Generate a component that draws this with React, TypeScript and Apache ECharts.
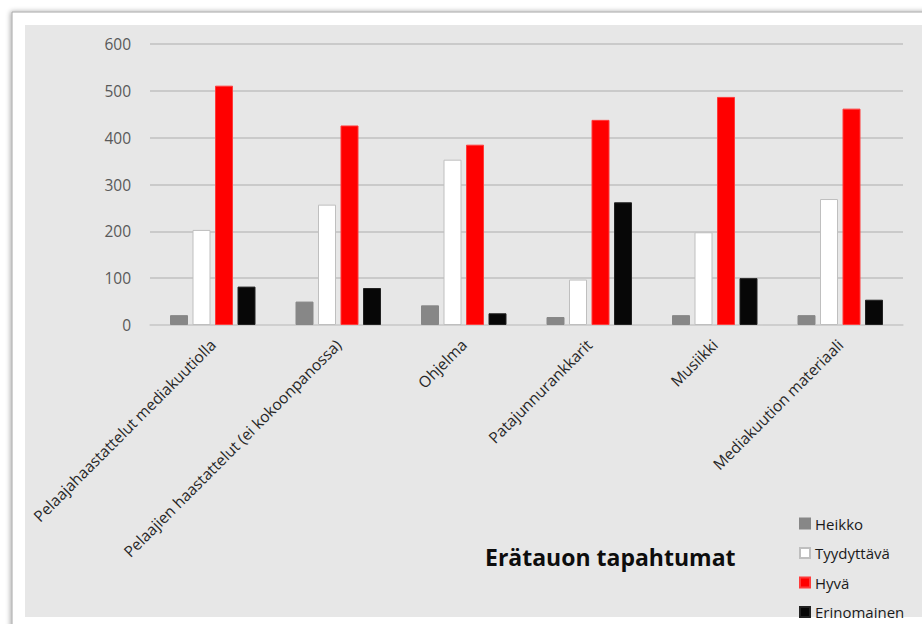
import React, { useEffect, useRef } from "react";
import * as echarts from "echarts";

// Categories (event types shown during the intermission)
const categories: string[] = [
  "Pelaajahaastattelut mediakuutiolla",
  "Pelaajien haastattelut (ei kokoonpanossa)",
  "Ohjelma",
  "Patajunnurankkarit",
  "Musiikki",
  "Mediakuution materiaali",
];

// Rating counts per category
const heikko: number[] = [21, 50, 42, 17, 21, 21];
const tyydyttava: number[] = [203, 257, 353, 97, 198, 269];
const hyva: number[] = [511, 426, 385, 438, 487, 462];
const erinomainen: number[] = [82, 79, 25, 262, 100, 54];

const yTicks = { min: 0, max: 600, interval: 100 };

const FONT = "'Open Sans', sans-serif";

export default function App() {
  const ref = useRef<HTMLDivElement>(null);

  useEffect(() => {
    if (!ref.current) return;
    const chart = echarts.init(ref.current, null, { renderer: "svg" });

    const bar = (name: string, data: number[], color: string, border: string) => ({
      name,
      type: "bar",
      data,
      barWidth: 18,
      barGap: "25%",
      itemStyle: { color, borderColor: border, borderWidth: 1 },
    });

    chart.setOption({
      animation: false,
      backgroundColor: "#ffffff",
      textStyle: { fontFamily: FONT },
      graphic: [
        {
          type: "rect",
          z: -10,
          silent: true,
          shape: { x: 12, y: 12, width: 940, height: 640 },
          style: {
            fill: "#ffffff",
            stroke: "#a6a6a6",
            lineWidth: 1,
            shadowBlur: 5,
            shadowColor: "rgba(0,0,0,0.35)",
            shadowOffsetX: -1,
            shadowOffsetY: 0,
          },
        },
        {
          type: "rect",
          z: -9,
          silent: true,
          shape: { x: 25, y: 25, width: 897, height: 592 },
          style: { fill: "#e7e7e7" },
        },
        {
          type: "text",
          left: 485,
          top: 545,
          style: {
            text: "Erätauon tapahtumat",
            fontSize: 23,
            fontWeight: "bold",
            fontFamily: FONT,
            fill: "#0d0d0d",
          },
        },
      ],
      grid: { left: 150, right: 19, top: 44, bottom: 299 },
      legend: {
        orient: "vertical",
        left: 799,
        top: 515,
        padding: 0,
        itemWidth: 10,
        itemHeight: 10,
        itemGap: 12.5,
        icon: "rect",
        textStyle: { fontSize: 15, color: "#1a1a1a", lineHeight: 17, fontFamily: FONT },
        data: ["Heikko", "Tyydyttävä", "Hyvä", "Erinomainen"],
      },
      xAxis: {
        type: "category",
        data: categories,
        axisLine: { show: true, lineStyle: { color: "#d0d0d0", width: 1.5 } },
        axisTick: { show: false },
        axisLabel: {
          rotate: 45,
          interval: 0,
          margin: 17,
          fontSize: 15.5,
          color: "#262626",
          fontFamily: FONT,
        },
      },
      yAxis: {
        type: "value",
        min: yTicks.min,
        max: yTicks.max,
        interval: yTicks.interval,
        axisLine: { show: false },
        axisTick: { show: false },
        splitLine: { lineStyle: { color: "#c0c0c0", width: 1.5 } },
        axisLabel: { fontSize: 15.5, color: "#595959", margin: 19, fontFamily: FONT },
      },
      series: [
        bar("Heikko", heikko, "#878787", "#878787"),
        bar("Tyydyttävä", tyydyttava, "#ffffff", "#bfbfbf"),
        bar("Hyvä", hyva, "#ff0000", "#ff3b3b"),
        bar("Erinomainen", erinomainen, "#070707", "#222222"),
      ],
    });

    return () => chart.dispose();
  }, []);

  return (
    <div
      ref={ref}
      style={{ position: "fixed", left: 0, top: 0, width: 922, height: 624 }}
    />
  );
}
